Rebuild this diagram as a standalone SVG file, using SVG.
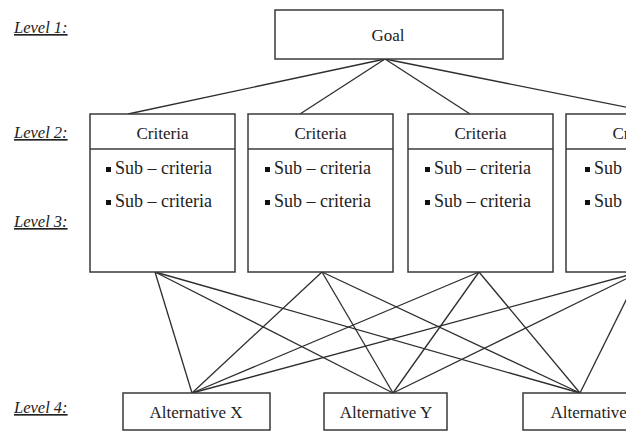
<svg xmlns="http://www.w3.org/2000/svg" width="626" height="431" viewBox="0 0 626 431">
  <style>
    .box { fill: #fff; stroke: #3a3a3a; stroke-width: 1.5; }
    .div { stroke: #3a3a3a; stroke-width: 1.5; }
    .lnk { stroke: #2e2e2e; stroke-width: 1.3; fill: none; }
    .t { font-family: "Liberation Serif", "Times New Roman", serif; font-size: 17px; fill: #222; }
    .sub { font-size: 18px; }
    .mid { text-anchor: middle; }
    .lvl { font-family: "Liberation Serif", "Times New Roman", serif; font-size: 16.5px; font-style: italic; fill: #222; text-decoration: underline; }
    .bul { fill: #111; }
  </style>
  <rect width="626" height="431" fill="#fff"/>

  <!-- hierarchy level labels -->
  <g id="levels">
    <text class="lvl" x="14" y="33">Level 1:</text>
    <text class="lvl" x="14" y="138">Level 2:</text>
    <text class="lvl" x="14" y="227">Level 3:</text>
    <text class="lvl" x="14" y="413">Level 4:</text>
  </g>

  <!-- connectors: goal to criteria, criteria to alternatives -->
  <g id="connectors" class="lnk">
    <line x1="385" y1="59" x2="128" y2="114"/>
    <line x1="385" y1="59" x2="300" y2="114"/>
    <line x1="385" y1="59" x2="470" y2="114"/>
    <line x1="385" y1="59" x2="660" y2="114"/>

    <line x1="155" y1="272" x2="192" y2="393"/>
    <line x1="155" y1="272" x2="393" y2="393"/>
    <line x1="155" y1="272" x2="580" y2="393"/>
    <line x1="322" y1="272" x2="192" y2="393"/>
    <line x1="322" y1="272" x2="393" y2="393"/>
    <line x1="322" y1="272" x2="580" y2="393"/>
    <line x1="479" y1="272" x2="192" y2="393"/>
    <line x1="479" y1="272" x2="393" y2="393"/>
    <line x1="479" y1="272" x2="580" y2="393"/>
    <line x1="640" y1="272" x2="192" y2="393"/>
    <line x1="640" y1="272" x2="393" y2="393"/>
    <line x1="640" y1="272" x2="580" y2="393"/>
  </g>

  <g id="goal">
    <rect class="box" x="275" y="10" width="228" height="49"/>
    <text class="t mid" x="388" y="41">Goal</text>
  </g>

  <g id="criteria-1">
    <rect class="box" x="90" y="114" width="145" height="158"/>
    <line class="div" x1="90" y1="149" x2="235" y2="149"/>
    <text class="t mid" x="162.5" y="139">Criteria</text>
    <rect class="bul" x="106" y="167" width="5" height="5"/>
    <text class="t sub" x="115" y="174">Sub – criteria</text>
    <rect class="bul" x="106" y="200" width="5" height="5"/>
    <text class="t sub" x="115" y="207">Sub – criteria</text>
  </g>

  <g id="criteria-2">
    <rect class="box" x="248" y="114" width="145" height="158"/>
    <line class="div" x1="248" y1="149" x2="393" y2="149"/>
    <text class="t mid" x="320.5" y="139">Criteria</text>
    <rect class="bul" x="265" y="167" width="5" height="5"/>
    <text class="t sub" x="274" y="174">Sub – criteria</text>
    <rect class="bul" x="265" y="200" width="5" height="5"/>
    <text class="t sub" x="274" y="207">Sub – criteria</text>
  </g>

  <g id="criteria-3">
    <rect class="box" x="408" y="114" width="145" height="158"/>
    <line class="div" x1="408" y1="149" x2="553" y2="149"/>
    <text class="t mid" x="480.5" y="139">Criteria</text>
    <rect class="bul" x="425" y="167" width="5" height="5"/>
    <text class="t sub" x="434" y="174">Sub – criteria</text>
    <rect class="bul" x="425" y="200" width="5" height="5"/>
    <text class="t sub" x="434" y="207">Sub – criteria</text>
  </g>

  <g id="criteria-4">
    <rect class="box" x="566" y="114" width="145" height="158"/>
    <line class="div" x1="566" y1="149" x2="711" y2="149"/>
    <text class="t mid" x="638.5" y="139">Criteria</text>
    <rect class="bul" x="585" y="167" width="5" height="5"/>
    <text class="t sub" x="594" y="174">Sub – criteria</text>
    <rect class="bul" x="585" y="200" width="5" height="5"/>
    <text class="t sub" x="594" y="207">Sub – criteria</text>
  </g>

  <g id="alternative-x">
    <rect class="box" x="123" y="393" width="147" height="37"/>
    <text class="t mid" x="196" y="418">Alternative X</text>
  </g>

  <g id="alternative-y">
    <rect class="box" x="324" y="393" width="123" height="37"/>
    <text class="t mid" x="386" y="418">Alternative Y</text>
  </g>

  <g id="alternative-z">
    <rect class="box" x="523" y="393" width="147" height="37"/>
    <text class="t mid" x="596" y="418">Alternative Z</text>
  </g>
</svg>
